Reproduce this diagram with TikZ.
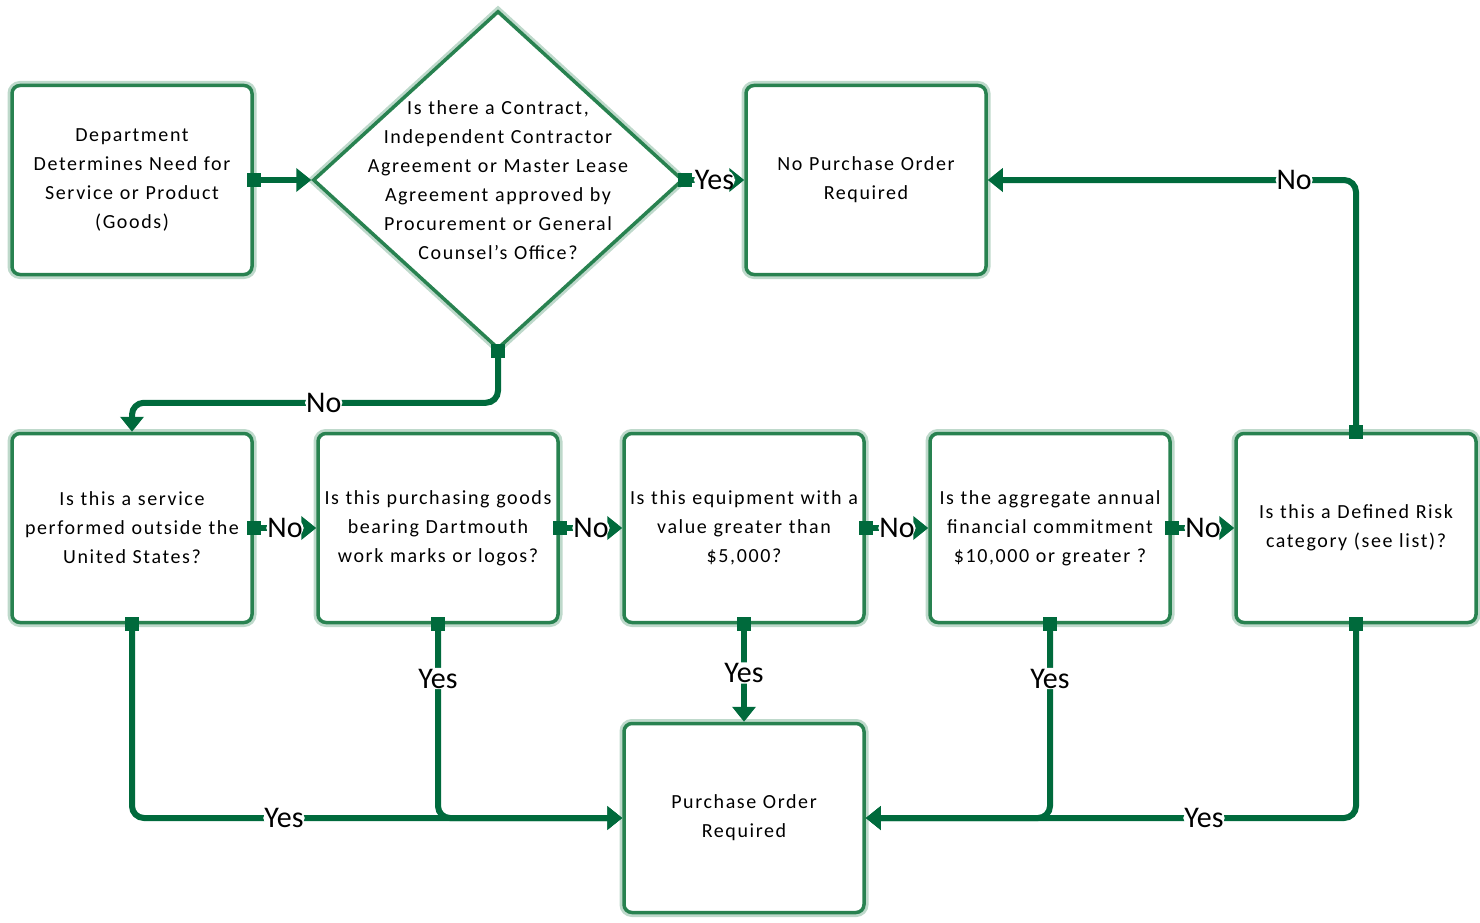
\documentclass[tikz,border=0pt]{standalone}
\usepackage{fontspec}
\setmainfont{Carlito}
\newfontfamily\boxfam[LetterSpace=8]{Carlito}
\usetikzlibrary{shapes,arrows.meta}
\definecolor{lineg}{RGB}{0,106,60}
\definecolor{boxg}{RGB}{40,130,80}
\tikzstyle{block} = [rectangle, draw=boxg, line width=3.5pt, fill=white,
    preaction={draw=boxg!30, line width=9pt},
    text width=236pt, align=center, rounded corners=8pt, inner sep=2pt,
    minimum width=240pt, minimum height=189pt, font=\boxfam\fontsize{20}{29}\selectfont]
\tikzstyle{decision} = [diamond, draw=boxg, line width=3.5pt, fill=white,
    preaction={draw=boxg!30, line width=9pt},
    minimum width=370pt, minimum height=338pt, inner sep=0pt]
\tikzstyle{line} = [draw=lineg, line width=6pt, rounded corners=12pt,
    arrows={Square[length=14pt,width=14pt]-Triangle[length=15pt,width=23pt]},
    shorten <=-7pt]
\tikzstyle{answer} = [fill=white, inner sep=1pt, text=black,
    font=\fontsize{30}{36}\selectfont]

\begin{document}
\begin{tikzpicture}[x=1pt, y=-1pt, node distance = 306pt]
	    \useasboundingbox (0,0) rectangle (1480,923);
	    % Place nodes
	    \node [block] (dept) at (132,180) {Department\\Determines Need for\\Service or Product\\(Goods)};
	    \node [decision, right of=dept, node distance=366pt,
	        label={[text width=290pt, align=center, font=\boxfam\fontsize{20}{29}\selectfont]center:{Is there a Contract,\\Independent Contractor\\Agreement or Master Lease\\Agreement approved by\\Procurement or General\\Counsel’s Office?}}] (contract) {};
	    \node [block, right of=contract, node distance=368pt] (nopo) {No Purchase Order\\Required};
	    \node [block, below of=dept, node distance=348pt] (svc) {Is this a service\\performed outside the\\United States?};
	    \node [block, right of=svc] (goods) {Is this purchasing goods\\bearing Dartmouth\\work marks or logos?};
	    \node [block, right of=goods] (equip) {Is this equipment with a\\value greater than\\\$5,000?};
	    \node [block, right of=equip] (annual) {Is the aggregate annual\\financial commitment\\\$10,000 or greater ?};
	    \node [block, right of=annual] (risk) {Is this a Defined Risk\\category (see list)?};
	    \node [block, below of=equip, node distance=290pt] (po) {Purchase Order\\Required};
	    % Draw edges
	    \path [line] (dept) -- (contract);
	    \path [line] (contract) -- node [answer] {Yes} (nopo);
	    \path [line] (contract.south) -- ++(0,52) -| node [answer, pos=0.238] {No} (svc.north);
	    \path [line] (svc) -- node [answer] {No} (goods);
	    \path [line] (goods) -- node [answer] {No} (equip);
	    \path [line] (equip) -- node [answer] {No} (annual);
	    \path [line] (annual) -- node [answer] {No} (risk);
	    \path [line] (risk.north) |- node [answer, pos=0.584] {No} (nopo.east);
	    \path [line] (svc.south) |- node [answer, pos=0.655] {Yes} (po.west);
	    \path [line] (goods.south) |- node [answer, pos=0.14] {Yes} (po.west);
	    \path [line] (equip) -- node [answer] {Yes} (po);
	    \path [line] (annual.south) |- node [answer, pos=0.14] {Yes} (po.east);
	    \path [line] (risk.south) |- node [answer, pos=0.655] {Yes} (po.east);
\end{tikzpicture}
\end{document}
